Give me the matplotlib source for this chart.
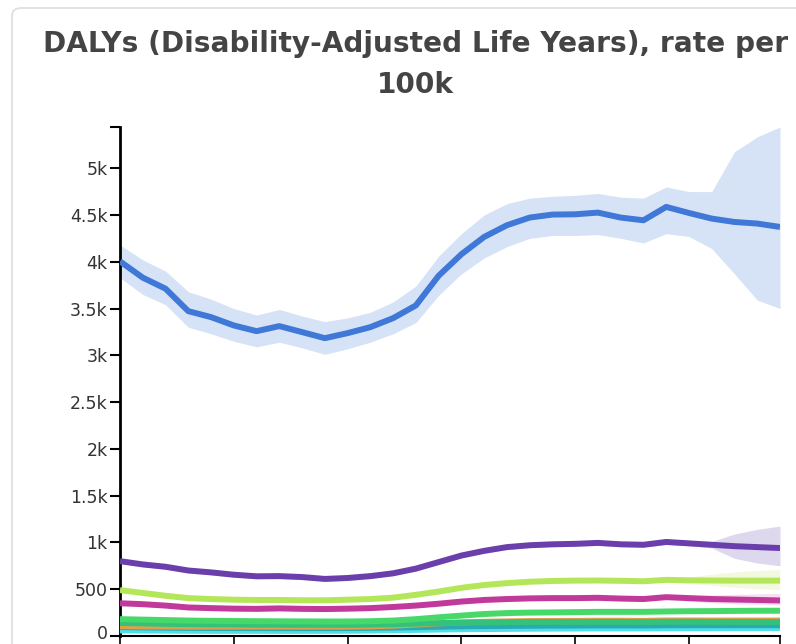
import matplotlib
matplotlib.use("Agg")
import matplotlib.pyplot as plt
import matplotlib.transforms as mtransforms
from matplotlib.patches import FancyBboxPatch
import numpy as np

# years on the x axis (labels are cut off below the picture)
years = list(range(1990, 2020))

# DALYs rate per 100k
blue = [4004, 3830, 3712, 3472, 3408, 3319, 3258, 3312, 3248, 3183,
        3237, 3301, 3397, 3533, 3850, 4080, 4265, 4390, 4472, 4504,
        4507, 4525, 4472, 4443, 4586, 4521, 4461, 4425, 4408, 4372]
blue_hi = [4180, 4020, 3900, 3680, 3600, 3500, 3430, 3490, 3420, 3360,
           3400, 3460, 3570, 3740, 4060, 4300, 4500, 4620, 4680, 4700,
           4710, 4730, 4690, 4680, 4800, 4750, 4750, 5175, 5335, 5440]
blue_lo = [3830, 3650, 3540, 3300, 3230, 3150, 3090, 3140, 3080, 3010,
           3070, 3140, 3230, 3350, 3640, 3870, 4040, 4160, 4250, 4280,
           4280, 4290, 4250, 4200, 4300, 4270, 4140, 3870, 3590, 3500]

purple = [800, 765, 740, 700, 680, 655, 638, 640, 630, 610,
          620, 640, 670, 720, 790, 860, 910, 950, 970, 980,
          985, 995, 980, 975, 1005, 990, 975, 960, 950, 940]
purple_hi = [p + 25 for p in purple[:26]] + [1010, 1090, 1140, 1175]
purple_lo = [p - 25 for p in purple[:26]] + [940, 830, 780, 750]

lime = [490, 460, 430, 405, 395, 388, 385, 385, 382, 382,
        388, 395, 410, 440, 475, 515, 545, 565, 580, 588,
        592, 593, 590, 585, 600, 595, 593, 592, 592, 592]
lime_hi = [v + 20 for v in lime[:25]] + [630, 660, 685, 700, 710]
lime_lo = [v - 20 for v in lime[:25]] + [560, 540, 520, 505, 495]

magenta = [350, 340, 325, 305, 298, 292, 290, 295, 290, 288,
           292, 298, 310, 325, 345, 368, 385, 395, 402, 405,
           405, 408, 400, 395, 415, 405, 395, 390, 385, 380]
magenta_hi = [v + 15 for v in magenta[:25]] + [430, 440, 445, 450, 455]
magenta_lo = [v - 15 for v in magenta[:25]] + [370, 355, 345, 340, 335]

green = [180, 175, 170, 165, 162, 160, 158, 157, 156, 155,
         155, 158, 165, 180, 200, 218, 235, 245, 250, 252,
         255, 258, 258, 258, 262, 265, 266, 268, 270, 270]
seagreen = [140, 135, 130, 127, 125, 124, 122, 121, 120, 120,
            120, 122, 126, 132, 138, 143, 146, 148, 150, 150,
            150, 151, 151, 150, 152, 152, 151, 151, 150, 150]
orange = [105, 103, 101, 100, 100, 100, 100, 100, 100, 100,
          100, 103, 110, 122, 135, 145, 152, 156, 160, 161,
          162, 163, 163, 162, 166, 166, 165, 165, 165, 165]
teal = [95, 92, 89, 87, 86, 85, 85, 84, 84, 84,
        85, 87, 90, 94, 99, 103, 106, 108, 110, 111,
        112, 113, 113, 112, 115, 115, 115, 115, 115, 115]
cyan = [60, 58, 57, 56, 55, 55, 55, 54, 54, 55,
        56, 58, 61, 65, 69, 72, 74, 76, 78, 79,
        80, 81, 81, 81, 83, 84, 84, 85, 85, 85]

ytick_vals = [0, 500, 1000, 1500, 2000, 2500, 3000, 3500, 4000, 4500, 5000]
ytick_labels = ["0", "500", "1k", "1.5k", "2k", "2.5k", "3k", "3.5k", "4k", "4.5k", "5k"]
xtick_years = [1990, 1995, 2000, 2005, 2010, 2015, 2019]

fig = plt.figure(figsize=(7.96, 6.44), dpi=100)
fig.patch.set_facecolor("white")

# panel border (rounded box running off the right edge), kept behind the axes
panel = FancyBboxPatch((12 / 796, -0.1), 1.2, 1.1 - 8 / 644,
                       boxstyle="round,pad=0,rounding_size=0.012",
                       transform=fig.transFigure, facecolor="white",
                       edgecolor="#dddddd", linewidth=1.2, zorder=-5)
fig.patches.append(panel)

fig.text(0.522, 0.953, "DALYs (Disability-Adjusted Life Years), rate per\n100k",
         ha="center", va="top", fontsize=20.2, fontweight="bold",
         color="#444444", linespacing=1.6, family="DejaVu Sans")

ax = fig.add_axes([120 / 796, 8 / 644, 660 / 796, 509 / 644])
ax.set_facecolor("none")
ax.set_zorder(2)

# bands first, then lines
bands = [
    (blue_lo, blue_hi, "#cfdff5", 0.85),
    (purple_lo, purple_hi, "#cfc8e6", 0.7),
    (lime_lo, lime_hi, "#eef7d2", 0.7),
    (magenta_lo, magenta_hi, "#f7cfe8", 0.7),
]
for lo, hi, col, a in bands:
    ax.fill_between(years, lo, hi, color=col, alpha=a, linewidth=0, zorder=1)

series = [
    (cyan, "#4fe0e6"),
    (teal, "#28a9b3"),
    (orange, "#e0a048"),
    (seagreen, "#34c27a"),
    (green, "#46d96a"),
    (magenta, "#c2399c"),
    (lime, "#b4e65a"),
    (purple, "#6a3fab"),
    (blue, "#3f78d6"),
]
for vals, col in series:
    ax.plot(years, vals, color=col, linewidth=4.3, solid_capstyle="butt", zorder=3)

ax.set_xlim(years[0], years[-1])
ax.set_ylim(0, max(blue_hi))

ax.set_yticks(ytick_vals + [max(blue_hi)])
ax.set_yticklabels(ytick_labels + [""])
ax.set_xticks(xtick_years)
ax.set_xticklabels([""] * len(xtick_years))

for side in ["top", "right"]:
    ax.spines[side].set_visible(False)
ax.spines["left"].set_linewidth(2)
ax.spines["bottom"].set_linewidth(1.5)
ax.tick_params(axis="y", length=7, width=1.5, color="black", labelsize=12.5,
               labelcolor="#333333", pad=2)
ax.tick_params(axis="x", length=10, width=1.2, color="black")
ylabels = ax.get_yticklabels()
for lab in ylabels:
    lab.set_family("DejaVu Sans")
# nudge the "0" label up a touch so it stays inside the picture
ylabels[0].set_transform(ylabels[0].get_transform() +
                         mtransforms.ScaledTranslation(0, 3 / 72, fig.dpi_scale_trans))

fig.savefig("out.png", dpi=100)
